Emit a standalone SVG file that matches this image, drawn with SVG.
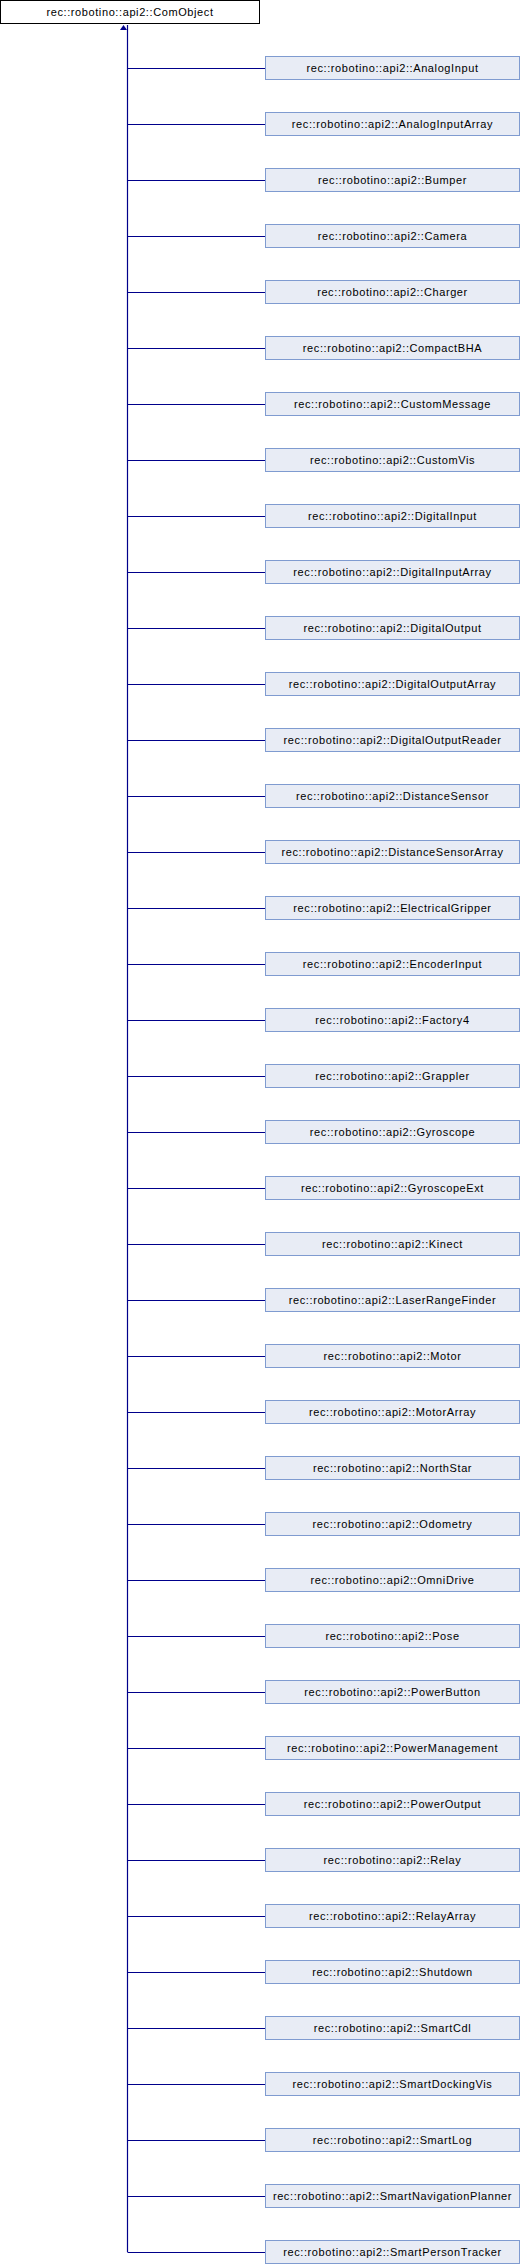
<svg xmlns="http://www.w3.org/2000/svg" width="520" height="2264" viewBox="0 0 520 2264">
<style>
.n rect{fill:#e8ecf5;stroke:#7f9bd0;stroke-width:1}
.r rect{fill:#ffffff;stroke:#000000;stroke-width:1}
text{font-family:"Liberation Sans",Arial,sans-serif;font-size:11px;letter-spacing:0.6px;fill:#000000;text-anchor:middle}
.e path{stroke:#00008b;stroke-width:1.2;fill:none}
</style>
<defs>
<marker id="ah" markerWidth="8" markerHeight="8" refX="4" refY="0" orient="0" markerUnits="userSpaceOnUse" viewBox="-4 -1 8 8">
<path d="M0,0 L-3.5,5 L3.5,5 Z" fill="#00008b" stroke="none"/>
</marker>
</defs>
<rect width="520" height="2264" fill="#ffffff"/>
<g id="connectors" class="e">
<path d="M127.5,25 V2252" marker-start="url(#ah)"/>
<path d="M127.5,68.5 H265 M127.5,124.5 H265 M127.5,180.5 H265 M127.5,236.5 H265 M127.5,292.5 H265 M127.5,348.5 H265 M127.5,404.5 H265 M127.5,460.5 H265 M127.5,516.5 H265 M127.5,572.5 H265 M127.5,628.5 H265 M127.5,684.5 H265 M127.5,740.5 H265 M127.5,796.5 H265 M127.5,852.5 H265 M127.5,908.5 H265 M127.5,964.5 H265 M127.5,1020.5 H265 M127.5,1076.5 H265 M127.5,1132.5 H265 M127.5,1188.5 H265 M127.5,1244.5 H265 M127.5,1300.5 H265 M127.5,1356.5 H265 M127.5,1412.5 H265 M127.5,1468.5 H265 M127.5,1524.5 H265 M127.5,1580.5 H265 M127.5,1636.5 H265 M127.5,1692.5 H265 M127.5,1748.5 H265 M127.5,1804.5 H265 M127.5,1860.5 H265 M127.5,1916.5 H265 M127.5,1972.5 H265 M127.5,2028.5 H265 M127.5,2084.5 H265 M127.5,2140.5 H265 M127.5,2196.5 H265 M127.5,2252.5 H265"/>
</g>
<g id="ComObject" class="r"><rect x="0.5" y="0.5" width="259" height="23"/><text x="130" y="16">rec::robotino::api2::ComObject</text></g>
<g id="AnalogInput" class="n"><rect x="265.5" y="56.5" width="254" height="23"/><text x="392.5" y="72">rec::robotino::api2::AnalogInput</text></g>
<g id="AnalogInputArray" class="n"><rect x="265.5" y="112.5" width="254" height="23"/><text x="392.5" y="128">rec::robotino::api2::AnalogInputArray</text></g>
<g id="Bumper" class="n"><rect x="265.5" y="168.5" width="254" height="23"/><text x="392.5" y="184">rec::robotino::api2::Bumper</text></g>
<g id="Camera" class="n"><rect x="265.5" y="224.5" width="254" height="23"/><text x="392.5" y="240">rec::robotino::api2::Camera</text></g>
<g id="Charger" class="n"><rect x="265.5" y="280.5" width="254" height="23"/><text x="392.5" y="296">rec::robotino::api2::Charger</text></g>
<g id="CompactBHA" class="n"><rect x="265.5" y="336.5" width="254" height="23"/><text x="392.5" y="352">rec::robotino::api2::CompactBHA</text></g>
<g id="CustomMessage" class="n"><rect x="265.5" y="392.5" width="254" height="23"/><text x="392.5" y="408">rec::robotino::api2::CustomMessage</text></g>
<g id="CustomVis" class="n"><rect x="265.5" y="448.5" width="254" height="23"/><text x="392.5" y="464">rec::robotino::api2::CustomVis</text></g>
<g id="DigitalInput" class="n"><rect x="265.5" y="504.5" width="254" height="23"/><text x="392.5" y="520">rec::robotino::api2::DigitalInput</text></g>
<g id="DigitalInputArray" class="n"><rect x="265.5" y="560.5" width="254" height="23"/><text x="392.5" y="576">rec::robotino::api2::DigitalInputArray</text></g>
<g id="DigitalOutput" class="n"><rect x="265.5" y="616.5" width="254" height="23"/><text x="392.5" y="632">rec::robotino::api2::DigitalOutput</text></g>
<g id="DigitalOutputArray" class="n"><rect x="265.5" y="672.5" width="254" height="23"/><text x="392.5" y="688">rec::robotino::api2::DigitalOutputArray</text></g>
<g id="DigitalOutputReader" class="n"><rect x="265.5" y="728.5" width="254" height="23"/><text x="392.5" y="744">rec::robotino::api2::DigitalOutputReader</text></g>
<g id="DistanceSensor" class="n"><rect x="265.5" y="784.5" width="254" height="23"/><text x="392.5" y="800">rec::robotino::api2::DistanceSensor</text></g>
<g id="DistanceSensorArray" class="n"><rect x="265.5" y="840.5" width="254" height="23"/><text x="392.5" y="856">rec::robotino::api2::DistanceSensorArray</text></g>
<g id="ElectricalGripper" class="n"><rect x="265.5" y="896.5" width="254" height="23"/><text x="392.5" y="912">rec::robotino::api2::ElectricalGripper</text></g>
<g id="EncoderInput" class="n"><rect x="265.5" y="952.5" width="254" height="23"/><text x="392.5" y="968">rec::robotino::api2::EncoderInput</text></g>
<g id="Factory4" class="n"><rect x="265.5" y="1008.5" width="254" height="23"/><text x="392.5" y="1024">rec::robotino::api2::Factory4</text></g>
<g id="Grappler" class="n"><rect x="265.5" y="1064.5" width="254" height="23"/><text x="392.5" y="1080">rec::robotino::api2::Grappler</text></g>
<g id="Gyroscope" class="n"><rect x="265.5" y="1120.5" width="254" height="23"/><text x="392.5" y="1136">rec::robotino::api2::Gyroscope</text></g>
<g id="GyroscopeExt" class="n"><rect x="265.5" y="1176.5" width="254" height="23"/><text x="392.5" y="1192">rec::robotino::api2::GyroscopeExt</text></g>
<g id="Kinect" class="n"><rect x="265.5" y="1232.5" width="254" height="23"/><text x="392.5" y="1248">rec::robotino::api2::Kinect</text></g>
<g id="LaserRangeFinder" class="n"><rect x="265.5" y="1288.5" width="254" height="23"/><text x="392.5" y="1304">rec::robotino::api2::LaserRangeFinder</text></g>
<g id="Motor" class="n"><rect x="265.5" y="1344.5" width="254" height="23"/><text x="392.5" y="1360">rec::robotino::api2::Motor</text></g>
<g id="MotorArray" class="n"><rect x="265.5" y="1400.5" width="254" height="23"/><text x="392.5" y="1416">rec::robotino::api2::MotorArray</text></g>
<g id="NorthStar" class="n"><rect x="265.5" y="1456.5" width="254" height="23"/><text x="392.5" y="1472">rec::robotino::api2::NorthStar</text></g>
<g id="Odometry" class="n"><rect x="265.5" y="1512.5" width="254" height="23"/><text x="392.5" y="1528">rec::robotino::api2::Odometry</text></g>
<g id="OmniDrive" class="n"><rect x="265.5" y="1568.5" width="254" height="23"/><text x="392.5" y="1584">rec::robotino::api2::OmniDrive</text></g>
<g id="Pose" class="n"><rect x="265.5" y="1624.5" width="254" height="23"/><text x="392.5" y="1640">rec::robotino::api2::Pose</text></g>
<g id="PowerButton" class="n"><rect x="265.5" y="1680.5" width="254" height="23"/><text x="392.5" y="1696">rec::robotino::api2::PowerButton</text></g>
<g id="PowerManagement" class="n"><rect x="265.5" y="1736.5" width="254" height="23"/><text x="392.5" y="1752">rec::robotino::api2::PowerManagement</text></g>
<g id="PowerOutput" class="n"><rect x="265.5" y="1792.5" width="254" height="23"/><text x="392.5" y="1808">rec::robotino::api2::PowerOutput</text></g>
<g id="Relay" class="n"><rect x="265.5" y="1848.5" width="254" height="23"/><text x="392.5" y="1864">rec::robotino::api2::Relay</text></g>
<g id="RelayArray" class="n"><rect x="265.5" y="1904.5" width="254" height="23"/><text x="392.5" y="1920">rec::robotino::api2::RelayArray</text></g>
<g id="Shutdown" class="n"><rect x="265.5" y="1960.5" width="254" height="23"/><text x="392.5" y="1976">rec::robotino::api2::Shutdown</text></g>
<g id="SmartCdl" class="n"><rect x="265.5" y="2016.5" width="254" height="23"/><text x="392.5" y="2032">rec::robotino::api2::SmartCdl</text></g>
<g id="SmartDockingVis" class="n"><rect x="265.5" y="2072.5" width="254" height="23"/><text x="392.5" y="2088">rec::robotino::api2::SmartDockingVis</text></g>
<g id="SmartLog" class="n"><rect x="265.5" y="2128.5" width="254" height="23"/><text x="392.5" y="2144">rec::robotino::api2::SmartLog</text></g>
<g id="SmartNavigationPlanner" class="n"><rect x="265.5" y="2184.5" width="254" height="23"/><text x="392.5" y="2200">rec::robotino::api2::SmartNavigationPlanner</text></g>
<g id="SmartPersonTracker" class="n"><rect x="265.5" y="2240.5" width="254" height="23"/><text x="392.5" y="2256">rec::robotino::api2::SmartPersonTracker</text></g>
</svg>
